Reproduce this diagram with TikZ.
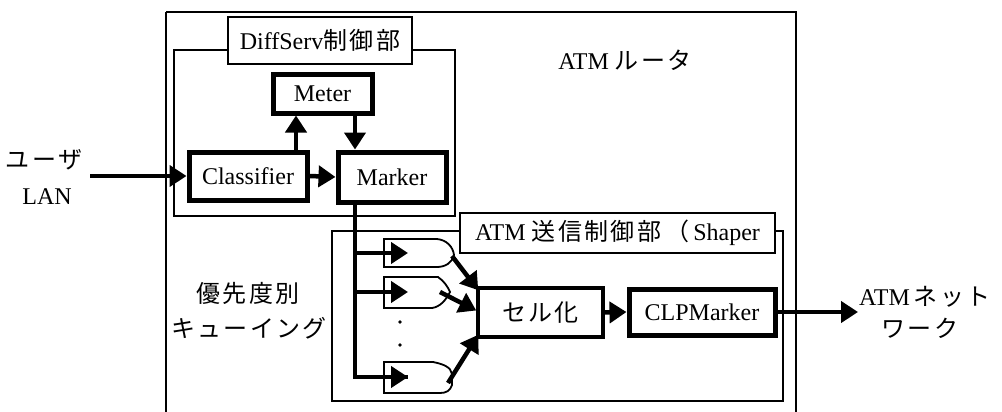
\documentclass[tikz,border=0pt]{standalone}
\usepackage{fontspec}
\setmainfont{Liberation Serif}
\newfontfamily\jp[LetterSpace=10]{Noto Sans CJK JP}
\usetikzlibrary{arrows.meta,calc}
\begin{document}
\begin{tikzpicture}[x=1pt,y=-1pt,
  font=\fontsize{24}{28}\selectfont,
  thinbox/.style={draw,line width=1.8pt,inner sep=0pt},
  thickbox/.style={draw,line width=5pt,inner sep=0pt,fill=white},
  labelbox/.style={draw,line width=1.8pt,fill=white,inner sep=0pt},
  flow/.style={line width=4.5pt,-{Triangle[length=17pt,width=21pt]}},
  bus/.style={line width=4pt},
  queue/.style={draw,line width=1.8pt,fill=white},
  txt/.style={inner sep=0pt}]
\useasboundingbox (0,0) rectangle (1002,412);
% router box (open at bottom)
\draw[line width=1.8pt] (166,12) -- (796,12) -- (796,412);
\draw[line width=1.8pt] (166,12) -- (166,412);
\node[txt] (atmr) at (625,60) {ATM {\jp ルータ}};
% DiffServ part
\node[thinbox,minimum width=281pt,minimum height=166pt] (ds) at (314.5,133) {};
\node[labelbox,minimum width=184pt,minimum height=47pt] (dsl) at (320,40.5) {DiffServ{\jp 制御部}};
\node[thickbox,minimum width=99pt,minimum height=38pt] (meter) at (322.5,94) {Meter};
\node[thickbox,minimum width=118pt,minimum height=48pt] (cls) at (248,176) {Classifier};
\node[thickbox,minimum width=108pt,minimum height=50pt] (mkr) at (392,177) {Marker};
% user LAN
\node[txt] (user) at (44,160) {\jp ユーザ};
\node[txt] (lan) at (47,197) {LAN};
\coordinate (lanin) at (90,176);
\draw[flow] (lanin) -- (cls.west);
\draw[flow] (cls.east) -- (mkr.west);
\draw[flow] ([xshift=48pt]cls.north) -- ([xshift=-26.5pt]meter.south);
\draw[flow] ([xshift=32.5pt]meter.south) -- ([xshift=-37pt]mkr.north);
% shaper part
\node[thinbox,minimum width=451pt,minimum height=170pt] (shp) at (557.5,316) {};
\node[labelbox,minimum width=315pt,minimum height=40pt] (shpl) at (617.5,233) {ATM {\jp 送信制御部}\,{\jp （}\,Shaper};
\node[draw,line width=3.5pt,inner sep=0pt,minimum width=125pt,minimum height=49pt] (cell) at (540.5,312.5) {\jp セル化};
\node[thickbox,minimum width=146pt,minimum height=46pt] (clp) at (702,312) {CLPMarker};
% queues
\draw[queue] (384,239) -- (437,239) .. controls (447,240) and (453,247) .. (454,255)
   .. controls (452,263) and (445,267) .. (437,267) -- (384,267) -- cycle;
\draw[queue] (384,277) -- (438,277) .. controls (444,281) and (448,287) .. (450,292)
   .. controls (446,300) and (440,307) .. (432,308) -- (384,308) -- cycle;
\draw[queue] (384,362) -- (433,362) .. controls (443,364) and (451,367) .. (452,374)
   -- (452,385) .. controls (450,391) and (446,393) .. (440,393) -- (384,393) -- cycle;
\coordinate (q1o) at (452,256);
\coordinate (q2o) at (440,292);
\coordinate (q3o) at (448,383);
\coordinate (q1i) at (408,253);
\coordinate (q2i) at (408,292);
\coordinate (q3i) at (408,377);
\coordinate (b1) at (355,253);
\coordinate (b2) at (355,292);
\fill (400,322) circle (1.8pt) coordinate (d1);
\fill (400,345) circle (1.8pt) coordinate (d2);
% bus from marker
\draw[bus] ([xshift=-37pt]mkr.south) |- (q3i);
\draw[flow] (b1) -- (q1i);
\draw[flow] (b2) -- (q2i);
\draw[flow] ([xshift=-2pt]b2 |- q3i) -- (q3i);
\draw[flow] (q1o) -- ($(cell.north west)+(2,4)$);
\draw[flow] (q2o) -- ($(cell.west)+(0,-2)$);
\draw[flow] (q3o) -- ($(cell.south west)+(2,-4)$);
\draw[flow] (cell.east) -- (clp.west);
\coordinate (netin) at (858,312);
\draw[flow] (clp.east) -- (netin);
\node[txt,anchor=west] (net) at (859,297) {ATM\,{\jp ネット}};
\node[txt] (work) at (920,328) {\jp ワーク};
% queuing label
\node[txt] (prio) at (248,293) {\jp 優先度別};
\node[txt] (queuing) at (249,328) {\jp キューイング};
\end{tikzpicture}
\end{document}
